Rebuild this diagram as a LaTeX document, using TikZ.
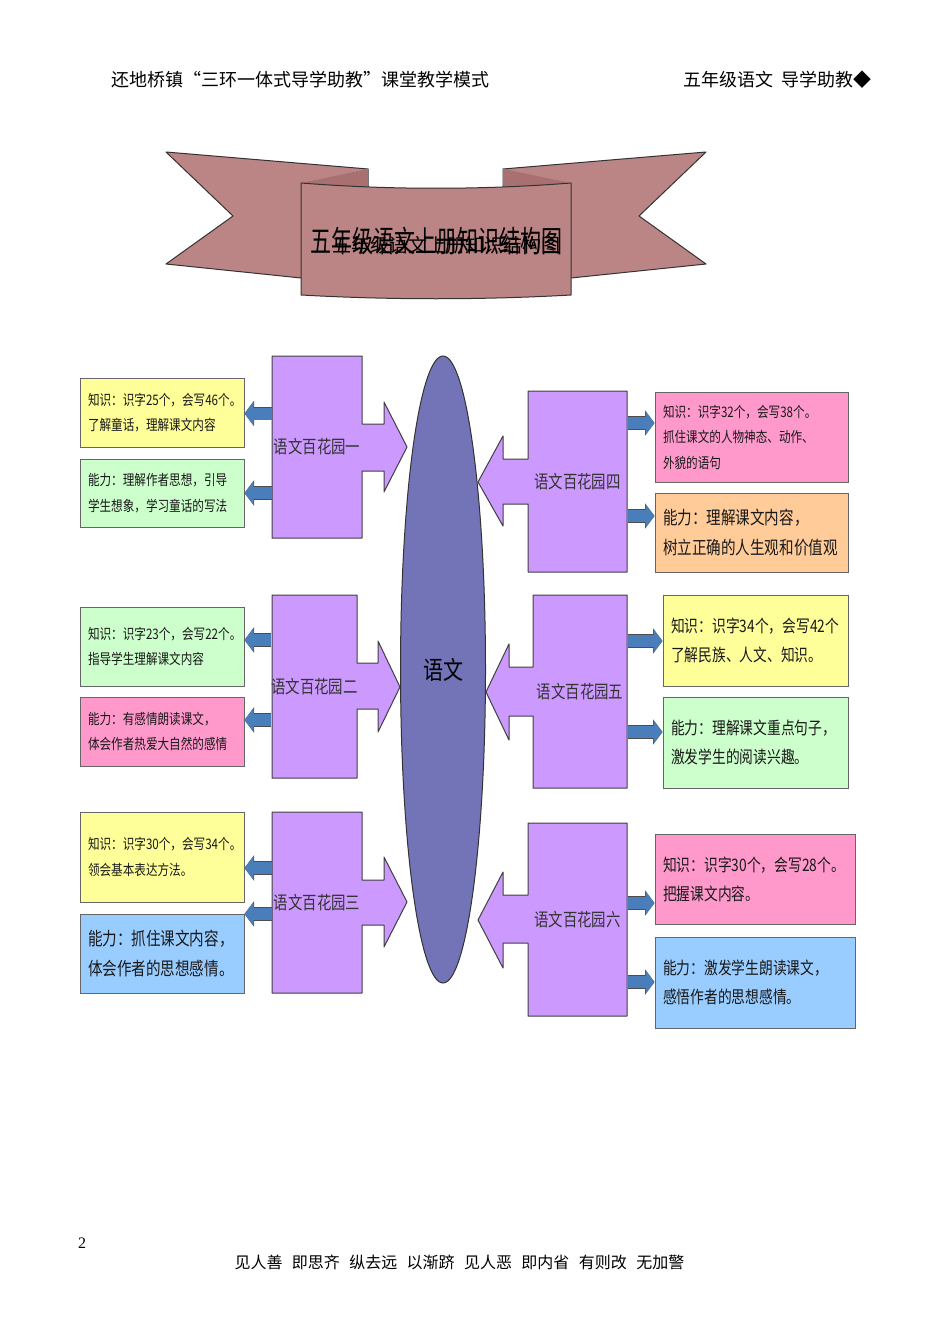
\documentclass[tikz,border=0pt]{standalone}
\usepackage{fontspec}
\setmainfont{Liberation Serif}
\newfontfamily\cjkplain{Noto Sans CJK SC}
\newfontfamily\cjknarrow[FakeStretch=0.8]{Noto Sans CJK SC}
\newfontfamily\cjktitle[FakeStretch=0.7]{Noto Sans CJK SC}
\usetikzlibrary{%
  arrows.meta,%
  shapes.geometric,% wg. ellipse
  calc
}
\definecolor{boxyellow}{HTML}{FFFF99}
\definecolor{boxgreen}{HTML}{CCFFCC}
\definecolor{boxpink}{HTML}{FF99CC}
\definecolor{boxorange}{HTML}{FFCC99}
\definecolor{boxblue}{HTML}{99CCFF}
\definecolor{gardenpurple}{HTML}{CC99FF}
\definecolor{ribbonred}{HTML}{BC8585}
\definecolor{ribbonfold}{HTML}{A87070}
\definecolor{corepurple}{HTML}{7373B8}
\definecolor{linkblue}{HTML}{4A7EBB}
\newcommand{\fsmall}{\cjknarrow\fontsize{14.5}{25.5}\selectfont}
\newcommand{\fmid}{\cjknarrow\fontsize{17.2}{29}\selectfont}
\newcommand{\flarge}{\cjknarrow\fontsize{18.2}{30}\selectfont}
% full-width colon and comma
\newcommand{\wcolon}{\char"FF1A\relax}
\newcommand{\wcomma}{\char"FF0C\relax}

\begin{document}
\begin{tikzpicture}
  [
  x=1pt, y=-1pt, draw=black, line width=1pt,
  ribbon/.style={fill=ribbonred, draw=black!80, line width=1pt, line join=round},
  garden/.style={fill=gardenpurple, draw=black!75, line width=1pt, line join=round},
  gardenlabel/.style={rectangle, inner sep=0pt, font=\cjknarrow\fontsize{18}{22}\selectfont, text=black!80},
  knowbox/.style={rectangle, draw=black!60, line width=1pt, inner sep=0pt, align=left, text=black!90},
  core/.style={ellipse, inner sep=0pt, fill=corepurple, draw=black!80, minimum width=85pt, minimum height=627pt,
    font=\cjknarrow\fontsize{25}{30}\selectfont},
  linkarrow/.style={line width=12pt, draw=linkblue, -{Triangle[length=9pt,width=23pt]},
    preaction={draw=black!70, line width=13.5pt, -{Triangle[length=9.5pt,width=25pt]}}},
  pagetext/.style={inner sep=0pt, font=\cjkplain\fontsize{18}{22}\selectfont}
  ]

\useasboundingbox (0,0) rectangle (950,1343);

\node[pagetext,anchor=west] (headleft) at (111,80) {还地桥镇“三环一体式导学助教”课堂教学模式};
\node[pagetext,anchor=west] (headright) at (683,80) {五年级语文\hspace{8pt}导学助教◆};

% banner
\draw[ribbon] (166,152) -- (368,169) -- (368,195) -- (301,278) -- (166,264) -- (233,216) -- cycle;
\draw[ribbon] (706,152) -- (503,169) -- (503,195) -- (571,278) -- (706,264) -- (639,216) -- cycle;
\fill[ribbonfold] (301,183) -- (368,169) -- (368,192) -- cycle;
\fill[ribbonfold] (571,183) -- (503,169) -- (503,192) -- cycle;
\draw[ribbon] (301,183) .. controls (390,190) and (482,190) .. (571,183)
  -- (571,295) .. controls (482,300) and (390,300) .. (301,295) -- cycle;
\node[inner sep=0pt,font=\cjkplain\fontsize{19}{22}\selectfont] (titleback) at (446,245) {五年级语文上册知识结构图};
\node[inner sep=0pt,font=\cjktitle\fontsize{30}{34}\selectfont] (title) at (436,241) {五年级语文上册知识结构图};

% gardens with their block arrows
\foreach \n/\xo/\xs/\ya/\yb/\sa/\sb/\hx/\ha/\hb/\tx/\ty/\lab in {
  1/272/362/356/538/424/471/384/402/492/407/447/语文百花园一,
  2/272/357/595/778/663/709/378/641/732/400/687/语文百花园二,
  3/272/362/812/993/880/925/384/857/947/407/902/语文百花园三,
  4/627/528/391/572/459/504/503/436/526/478/482/语文百花园四,
  5/627/533/595/788/667/716/509/644/740/486/692/语文百花园五,
  6/627/528/823/1016/895/943/503/872/968/478/920/语文百花园六} {
  \draw[garden] (\xo,\ya) -- (\xs,\ya) -- (\xs,\sa) -- (\hx,\sa) -- (\hx,\ha) -- (\tx,\ty)
    -- (\hx,\hb) -- (\hx,\sb) -- (\xs,\sb) -- (\xs,\yb) -- (\xo,\yb) -- cycle;
  \node[gardenlabel, minimum width={abs(\xs-\xo)*1pt}, minimum height={(\yb-\ya)*1pt}]
    (g\n) at ({(\xo+\xs)/2},{(\ya+\yb)/2}) {\lab};
}

\node[core] (yuwen) at (443,669.5) {语文};

% text boxes
\foreach \n/\xa/\xb/\ya/\yb/\col/\fnt/\txt in {
  a/80/244/378/447/boxyellow/\fsmall/{知识\wcolon 识字25个\wcomma 会写46个。\\了解童话\wcomma 理解课文内容},
  b/80/244/459/527/boxgreen/\fsmall/{能力\wcolon 理解作者思想\wcomma 引导\\学生想象\wcomma 学习童话的写法},
  c/80/244/607/686/boxgreen/\fsmall/{知识\wcolon 识字23个\wcomma 会写22个。\\指导学生理解课文内容},
  d/80/244/697/766/boxpink/\fsmall/{能力\wcolon 有感情朗读课文\wcomma \\体会作者热爱大自然的感情},
  e/80/244/812/902/boxyellow/\fsmall/{知识\wcolon 识字30个\wcomma 会写34个。\\领会基本表达方法。},
  f/80/244/914/993/boxblue/\flarge/{能力\wcolon 抓住课文内容\wcomma \\体会作者的思想感情。},
  g/655/848/392/482/boxpink/\fsmall/{知识\wcolon 识字32个\wcomma 会写38个。\\抓住课文的人物神态、动作、\\外貌的语句},
  h/655/848/493/572/boxorange/\flarge/{能力\wcolon 理解课文内容\wcomma \\树立正确的人生观和价值观},
  i/663/848/595/686/boxyellow/\fmid/{知识\wcolon 识字34个\wcomma 会写42个\\了解民族、人文、知识。},
  j/663/848/697/788/boxgreen/\fmid/{能力\wcolon 理解课文重点句子\wcomma \\激发学生的阅读兴趣。},
  k/655/855/834/924/boxpink/\fmid/{知识\wcolon 识字30个\wcomma 会写28个。\\把握课文内容。},
  l/655/855/937/1028/boxblue/\fmid/{能力\wcolon 激发学生朗读课文\wcomma \\感悟作者的思想感情。}} {
  \node[knowbox, fill=\col, font=\fnt, minimum width={(\xb-\xa)*1pt}, minimum height={(\yb-\ya)*1pt},
    text width={(\xb-\xa-16)*1pt}] (k\n) at ({(\xa+\xb)/2},{(\ya+\yb)/2}) {\txt};
}

% small arrows, from the garden to its boxes
\foreach \g/\k/\y in {1/a/413.5,1/b/493,2/c/640,2/d/720,3/e/868,3/f/914} {
  \draw[linkarrow] (g\g.west |- 0,\y) -- (k\k.east |- 0,\y);
}
\foreach \g/\k/\y in {4/g/423,4/h/516,5/i/641,5/j/732,6/k/903,6/l/982} {
  \draw[linkarrow] (g\g.east |- 0,\y) -- (k\k.west |- 0,\y);
}

\node[inner sep=0pt,font=\fontsize{16}{18}\selectfont] (pagenum) at (82,1243) {2};
\node[pagetext,font=\cjkplain\fontsize{16}{20}\selectfont,anchor=west] (footer) at (234,1262)
  {见人善\hspace{9.4pt}即思齐\hspace{9.4pt}纵去远\hspace{9.4pt}以渐跻\hspace{9.4pt}见人恶\hspace{9.4pt}即内省\hspace{9.4pt}有则改\hspace{9.4pt}无加警};

\end{tikzpicture}
\end{document}
